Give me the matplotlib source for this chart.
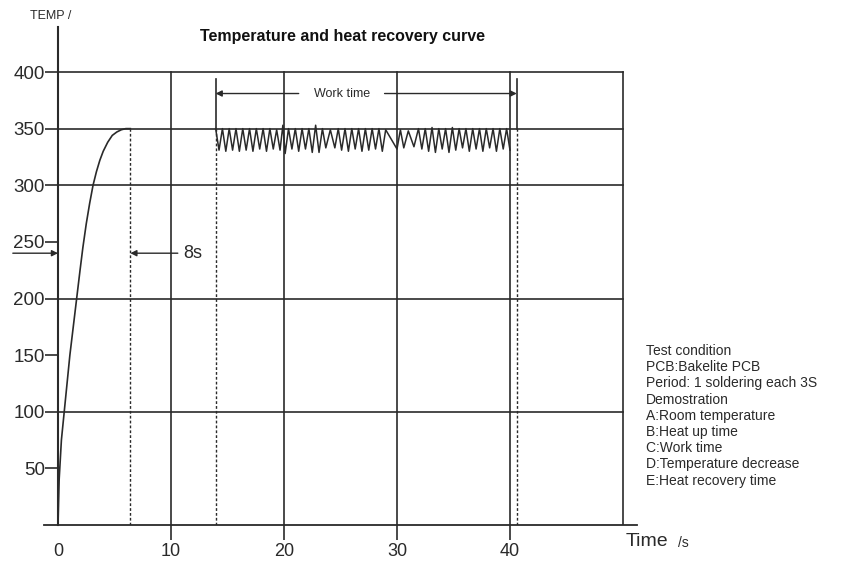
import matplotlib
matplotlib.use('Agg')
import matplotlib.pyplot as plt

plt.rcParams['font.family'] = ['Liberation Sans', 'DejaVu Sans']

# heat-up curve (time s, temp)
heat_t = [0, 0.1, 0.3, 0.55, 0.8, 1.05, 1.35, 1.65, 1.95, 2.2, 2.5, 2.8, 3.1,
          3.4, 3.7, 4.0, 4.4, 4.8, 5.2, 5.6, 6.0, 6.4]
heat_v = [0, 40, 75, 100, 125, 150, 175, 200, 225, 245, 266, 284, 300,
          312, 322, 330, 338, 344, 347, 349, 350, 350]

# work time zigzag (peaks / valleys)
zig_t = [13.95, 14.25, 14.55, 14.85, 15.15, 15.45, 15.75, 16.05, 16.35, 16.65,
         16.95, 17.25, 17.55, 17.85, 18.15, 18.45, 18.75, 19.05, 19.35, 19.65,
         19.9, 20.1, 20.4, 20.7, 21.0, 21.3, 21.6, 21.9, 22.2, 22.5,
         22.8, 23.1, 23.4, 23.7, 24.1, 24.5, 24.8, 25.1, 25.4, 25.7,
         26.0, 26.3, 26.6, 26.9, 27.2, 27.5, 27.8, 28.1, 28.4, 28.7,
         29.0, 30.0, 30.3, 30.6, 31.0, 31.5, 31.9, 32.2, 32.5, 32.8,
         33.1, 33.4, 33.7, 34.0, 34.3, 34.6, 34.9, 35.2, 35.5, 35.8,
         36.1, 36.4, 36.7, 37.0, 37.3, 37.6, 37.9, 38.2, 38.5, 38.8,
         39.1, 39.4, 39.7, 40.0]
zig_v = [350, 331, 350, 330, 350, 331, 350, 330, 350, 331,
         350, 330, 350, 332, 350, 330, 350, 332, 349, 331,
         353, 328, 350, 332, 350, 330, 350, 332, 350, 329,
         353, 329, 350, 333, 349, 333, 350, 331, 350, 330,
         350, 332, 350, 330, 350, 331, 350, 332, 350, 330,
         349, 332, 349, 333, 348, 334, 350, 332, 350, 330,
         351, 329, 350, 332, 350, 329, 351, 331, 350, 333,
         350, 330, 350, 332, 350, 330, 350, 333, 350, 330,
         350, 332, 350, 331]

x_ticks = [0, 10, 20, 30, 40]
y_ticks = [50, 100, 150, 200, 250, 300, 350, 400]
h_grid = [100, 200, 300, 350, 400]
v_grid = [10, 20, 30, 40, 50]

heat_end = 6.4
work_start = 13.95
work_end = 40.6

notes = ["Test condition", "PCB:Bakelite PCB", "Period: 1 soldering each 3S",
         "Demostration", "A:Room temperature", "B:Heat up time",
         "C:Work time", "D:Temperature decrease", "E:Heat recovery time"]

c = '#2a2a2a'
lw = 1.2

fig = plt.figure(figsize=(8.43, 5.62), dpi=100)
ax = fig.add_axes([44 / 843, 37 / 562, (637 - 44) / 843, (525 - 26.7) / 562])
ax.set_xlim(-1.24, 51.24)
ax.set_ylim(0, 440)

for s in ['top', 'right']:
    ax.spines[s].set_visible(False)
ax.spines['left'].set_position(('data', 0))
ax.spines['left'].set_color(c)
ax.spines['left'].set_linewidth(1.5)
ax.spines['bottom'].set_color(c)
ax.spines['bottom'].set_linewidth(1.3)

# grid
for y in h_grid:
    ax.plot([0, 50], [y, y], color=c, lw=lw)
for x in v_grid:
    ax.plot([x, x], [0, 400], color=c, lw=lw)

# curves
ax.plot(heat_t, heat_v, color=c, lw=lw)
ax.plot(zig_t, zig_v, color=c, lw=1.1)

# markers
ax.plot([heat_end, heat_end], [0, 350], color=c, lw=1.0, ls=(0, (2, 1.5)))
for x in [work_start, work_end]:
    ax.plot([x, x], [0, 350], color=c, lw=1.0, ls=(0, (2, 1.5)))
    ax.plot([x, x], [350, 394], color=c, lw=lw)

ap = dict(arrowstyle='-|>', color=c, lw=1.0, mutation_scale=9, shrinkA=0, shrinkB=0)
ax.annotate('', xy=(work_start, 381), xytext=(21.3, 381), arrowprops=ap)
ax.annotate('', xy=(work_end, 381), xytext=(28.9, 381), arrowprops=ap)
ax.text(25.1, 381, 'Work time', ha='center', va='center', fontsize=9, color=c)

ax.annotate('', xy=(heat_end, 240), xytext=(10.6, 240), arrowprops=ap)
ax.text(11.1, 240, '8s', ha='left', va='center', fontsize=13, color=c)
ax.annotate('', xy=(0, 240), xytext=(-4.0, 240), arrowprops=ap, annotation_clip=False)

# ticks
ax.set_xticks(x_ticks)
ax.set_xticklabels([str(v) for v in x_ticks])
ax.set_yticks(y_ticks)
ax.set_yticklabels([str(v) for v in y_ticks])
ax.tick_params(axis='y', direction='out', length=9.5, width=1.2, color=c,
               pad=0, labelsize=13.5, labelcolor=c)
ax.tick_params(axis='x', direction='out', length=11, width=1.2, color=c,
               pad=2, labelsize=13, labelcolor=c)
ax.xaxis.get_major_ticks()[0].tick1line.set_visible(False)

fig.text(200 / 843, 1 - 37 / 562, 'Temperature and heat recovery curve',
         fontsize=11.5, fontweight='bold', ha='left', va='center', color='#111')
fig.text(30 / 843, 1 - 16 / 562, 'TEMP /', fontsize=9, ha='left', va='center', color=c)
fig.text(626 / 843, 1 - 541 / 562, 'Time', fontsize=14, ha='left', va='center', color=c)
fig.text(678 / 843, 1 - 543 / 562, '/s', fontsize=10, ha='left', va='center', color=c)
fig.text(646 / 843, 1 - 344 / 562, '\n'.join(notes), fontsize=10, ha='left', va='top',
         color=c, linespacing=1.2)

fig.savefig('out.png', dpi=100)
